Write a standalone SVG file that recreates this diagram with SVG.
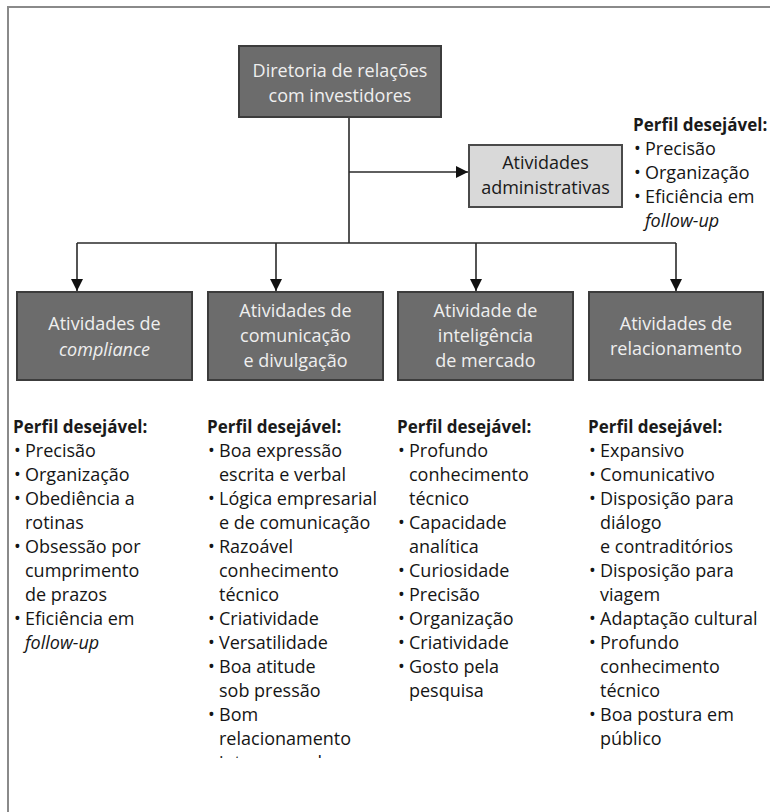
<svg xmlns="http://www.w3.org/2000/svg" width="770" height="812" viewBox="0 0 770 812">
  <defs>
    <marker id="arrow" viewBox="0 0 12 12" refX="12" refY="6" markerWidth="12" markerHeight="12" markerUnits="userSpaceOnUse" orient="auto">
      <path d="M0,0 L12,6 L0,12 Z" fill="#111"/>
    </marker>
    <clipPath id="cut">
      <rect x="0" y="0" width="770" height="758"/>
    </clipPath>
    <style>
      .frame { fill: none; stroke: #8a8a8a; stroke-width: 2; }
      .dark { fill: #6c6c6c; stroke: #3c3c3c; stroke-width: 2; }
      .light { fill: #d9d9d9; stroke: #4a4a4a; stroke-width: 2; }
      .label { font-family: "Open Sans", "Noto Sans", sans-serif; font-size: 18px; fill: #efefef; text-anchor: middle; }
      .label-dark { font-family: "Open Sans", "Noto Sans", sans-serif; font-size: 18px; fill: #1a1a1a; text-anchor: middle; }
      .head { font-family: "Open Sans", "Noto Sans", sans-serif; font-size: 17px; font-weight: bold; fill: #1a1a1a; }
      .item { font-family: "Open Sans", "Noto Sans", sans-serif; font-size: 18px; fill: #151515; }
      .it { font-style: italic; }
      .conn { fill: none; stroke: #2a2a2a; stroke-width: 1.6; }
    </style>
  </defs>

  <rect width="770" height="812" fill="#ffffff"/>
  <!-- outer frame (open to the right and bottom) -->
  <rect class="frame" x="8" y="7" width="800" height="900"/>

  <!-- connectors -->
  <g id="connectors">
    <path class="conn" d="M349,118 V243"/>
    <path class="conn" d="M349,172 H468" marker-end="url(#arrow)"/>
    <path class="conn" d="M77,243 H676"/>
    <path class="conn" d="M77,243 V291" marker-end="url(#arrow)"/>
    <path class="conn" d="M276,243 V291" marker-end="url(#arrow)"/>
    <path class="conn" d="M476,243 V291" marker-end="url(#arrow)"/>
    <path class="conn" d="M676,243 V291" marker-end="url(#arrow)"/>
  </g>

  <g id="diretoria">
    <rect class="dark" x="239" y="46" width="202" height="71"/>
    <text class="label" x="340" y="77">Diretoria de relações</text>
    <text class="label" x="340" y="102">com investidores</text>
  </g>

  <g id="administrativas">
    <rect class="light" x="469" y="145" width="153" height="62"/>
    <text class="label-dark" x="545.5" y="169">Atividades</text>
    <text class="label-dark" x="545.5" y="194">administrativas</text>
  </g>

  <g id="perfil-administrativas">
    <text class="head" x="633" y="131">Perfil desejável:</text>
    <text class="item" x="634" y="155">•</text><text class="item" x="645" y="155">Precisão</text>
    <text class="item" x="634" y="179">•</text><text class="item" x="645" y="179">Organização</text>
    <text class="item" x="634" y="203">•</text><text class="item" x="645" y="203">Eficiência em</text>
    <text class="item it" x="645" y="227">follow-up</text>
  </g>

  <g id="compliance">
    <rect class="dark" x="17" y="292" width="175" height="88"/>
    <text class="label" x="104.5" y="330">Atividades de</text>
    <text class="label it" x="104.5" y="356">compliance</text>
  </g>

  <g id="comunicacao">
    <rect class="dark" x="208" y="292" width="175" height="88"/>
    <text class="label" x="295.5" y="317">Atividades de</text>
    <text class="label" x="295.5" y="342">comunicação</text>
    <text class="label" x="295.5" y="367">e divulgação</text>
  </g>

  <g id="inteligencia">
    <rect class="dark" x="398" y="292" width="175" height="88"/>
    <text class="label" x="485.5" y="317">Atividade de</text>
    <text class="label" x="485.5" y="342">inteligência</text>
    <text class="label" x="485.5" y="367">de mercado</text>
  </g>

  <g id="relacionamento">
    <rect class="dark" x="589" y="292" width="174" height="88"/>
    <text class="label" x="676" y="330">Atividades de</text>
    <text class="label" x="676" y="355">relacionamento</text>
  </g>

  <g id="perfil-compliance">
    <text class="head" x="13" y="433">Perfil desejável:</text>
    <text class="item" x="14" y="457">•</text><text class="item" x="25" y="457">Precisão</text>
    <text class="item" x="14" y="481">•</text><text class="item" x="25" y="481">Organização</text>
    <text class="item" x="14" y="505">•</text><text class="item" x="25" y="505">Obediência a</text>
    <text class="item" x="25" y="529">rotinas</text>
    <text class="item" x="14" y="553">•</text><text class="item" x="25" y="553">Obsessão por</text>
    <text class="item" x="25" y="577">cumprimento</text>
    <text class="item" x="25" y="601">de prazos</text>
    <text class="item" x="14" y="625">•</text><text class="item" x="25" y="625">Eficiência em</text>
    <text class="item it" x="25" y="649">follow-up</text>
  </g>

  <g id="perfil-comunicacao">
    <text class="head" x="207" y="433">Perfil desejável:</text>
    <text class="item" x="208" y="457">•</text><text class="item" x="219" y="457">Boa expressão</text>
    <text class="item" x="219" y="481">escrita e verbal</text>
    <text class="item" x="208" y="505">•</text><text class="item" x="219" y="505">Lógica empresarial</text>
    <text class="item" x="219" y="529">e de comunicação</text>
    <text class="item" x="208" y="553">•</text><text class="item" x="219" y="553">Razoável</text>
    <text class="item" x="219" y="577">conhecimento</text>
    <text class="item" x="219" y="601">técnico</text>
    <text class="item" x="208" y="625">•</text><text class="item" x="219" y="625">Criatividade</text>
    <text class="item" x="208" y="649">•</text><text class="item" x="219" y="649">Versatilidade</text>
    <text class="item" x="208" y="673">•</text><text class="item" x="219" y="673">Boa atitude</text>
    <text class="item" x="219" y="697">sob pressão</text>
    <text class="item" x="208" y="721">•</text><text class="item" x="219" y="721">Bom</text>
    <text class="item" x="219" y="745">relacionamento</text>
    <!-- the next line is cut off at the page edge: only its top shows -->
    <text class="item" x="219" y="769" clip-path="url(#cut)">interpessoal</text>
  </g>

  <g id="perfil-inteligencia">
    <text class="head" x="397" y="433">Perfil desejável:</text>
    <text class="item" x="398" y="457">•</text><text class="item" x="409" y="457">Profundo</text>
    <text class="item" x="409" y="481">conhecimento</text>
    <text class="item" x="409" y="505">técnico</text>
    <text class="item" x="398" y="529">•</text><text class="item" x="409" y="529">Capacidade</text>
    <text class="item" x="409" y="553">analítica</text>
    <text class="item" x="398" y="577">•</text><text class="item" x="409" y="577">Curiosidade</text>
    <text class="item" x="398" y="601">•</text><text class="item" x="409" y="601">Precisão</text>
    <text class="item" x="398" y="625">•</text><text class="item" x="409" y="625">Organização</text>
    <text class="item" x="398" y="649">•</text><text class="item" x="409" y="649">Criatividade</text>
    <text class="item" x="398" y="673">•</text><text class="item" x="409" y="673">Gosto pela</text>
    <text class="item" x="409" y="697">pesquisa</text>
  </g>

  <g id="perfil-relacionamento">
    <text class="head" x="588" y="433">Perfil desejável:</text>
    <text class="item" x="589" y="457">•</text><text class="item" x="600" y="457">Expansivo</text>
    <text class="item" x="589" y="481">•</text><text class="item" x="600" y="481">Comunicativo</text>
    <text class="item" x="589" y="505">•</text><text class="item" x="600" y="505">Disposição para</text>
    <text class="item" x="600" y="529">diálogo</text>
    <text class="item" x="600" y="553">e contraditórios</text>
    <text class="item" x="589" y="577">•</text><text class="item" x="600" y="577">Disposição para</text>
    <text class="item" x="600" y="601">viagem</text>
    <text class="item" x="589" y="625">•</text><text class="item" x="600" y="625">Adaptação cultural</text>
    <text class="item" x="589" y="649">•</text><text class="item" x="600" y="649">Profundo</text>
    <text class="item" x="600" y="673">conhecimento</text>
    <text class="item" x="600" y="697">técnico</text>
    <text class="item" x="589" y="721">•</text><text class="item" x="600" y="721">Boa postura em</text>
    <text class="item" x="600" y="745">público</text>
  </g>
</svg>
